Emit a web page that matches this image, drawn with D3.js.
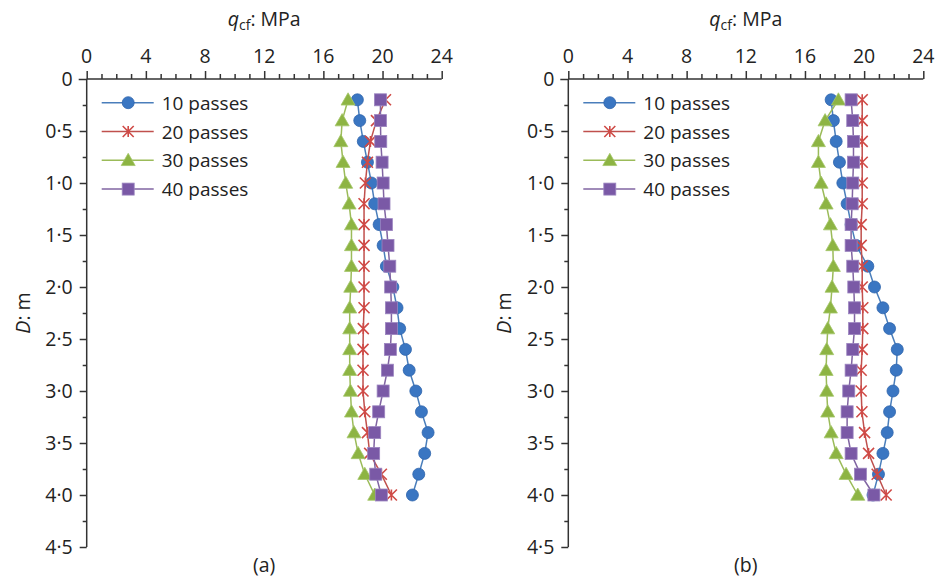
<!DOCTYPE html>
<html>
<head>
<meta charset="utf-8">
<script src="https://cdn.jsdelivr.net/npm/d3@7"></script>
<style>
  html, body { margin: 0; padding: 0; background: #fff; }
  svg { display: block; }
  text { font-family: "Open Sans", "Noto Sans", sans-serif; fill: #222; }
</style>
</head>
<body>
<svg id="chart" width="935" height="580"></svg>
<script>
// Depth of each cone reading, m
const depths = [0.2, 0.4, 0.6, 0.8, 1.0, 1.2, 1.4, 1.6, 1.8, 2.0,
                2.2, 2.4, 2.6, 2.8, 3.0, 3.2, 3.4, 3.6, 3.8, 4.0];

const seriesNames = ["10 passes", "20 passes", "30 passes", "40 passes"];

// Panel (a): cone resistance q_cf, MPa
const qA10 = [18.3, 18.46, 18.7, 18.98, 19.25, 19.47, 19.77, 20.04, 20.26, 20.7,
              20.98, 21.16, 21.55, 21.8, 22.25, 22.63, 23.08, 22.85, 22.45, 22.02];
const qA20 = [20.2, 19.59, 19.18, 18.98, 18.84, 18.75, 18.75, 18.75, 18.75, 18.75,
              18.75, 18.7, 18.68, 18.68, 18.68, 18.8, 18.98, 19.13, 19.92, 20.6];
const qA30 = [17.67, 17.27, 17.18, 17.33, 17.51, 17.74, 17.9, 17.9, 17.9, 17.85,
              17.78, 17.78, 17.78, 17.78, 17.83, 17.9, 18.07, 18.35, 18.8, 19.47];
const qA40 = [19.86, 19.86, 19.88, 19.97, 20.04, 20.1, 20.26, 20.37, 20.49, 20.55,
              20.6, 20.6, 20.53, 20.33, 20.04, 19.74, 19.47, 19.4, 19.54, 19.92];

// Panel (b): cone resistance q_cf, MPa
const qB10 = [17.77, 17.92, 18.11, 18.33, 18.56, 18.85, 19.12, 19.46, 20.25, 20.7,
              21.27, 21.72, 22.24, 22.17, 21.95, 21.72, 21.56, 21.27, 20.97, 20.6];
const qB20 = [19.87, 19.87, 19.87, 19.87, 19.87, 19.87, 19.8, 19.8, 19.87, 19.87,
              19.91, 19.91, 19.87, 19.8, 19.8, 19.85, 20.03, 20.3, 20.88, 21.49];
const qB30 = [18.26, 17.36, 16.91, 16.91, 17.09, 17.43, 17.72, 17.88, 17.92, 17.83,
              17.72, 17.54, 17.47, 17.43, 17.47, 17.54, 17.77, 18.11, 18.78, 19.57];
const qB40 = [19.12, 19.23, 19.28, 19.28, 19.23, 19.19, 19.12, 19.12, 19.23, 19.3,
              19.35, 19.35, 19.23, 19.12, 18.96, 18.85, 18.85, 19.12, 19.75, 20.66];

// Axis ticks
const xTicks = [0, 4, 8, 12, 16, 20, 24];
const yTicks = [0, 0.5, 1.0, 1.5, 2.0, 2.5, 3.0, 3.5, 4.0, 4.5];
const yTickLabels = ["0", "0·5", "1·0", "1·5", "2·0", "2·5", "3·0", "3·5", "4·0", "4·5"];

const panels = [
  { tag: "(a)", left: 86.7, series: [qA10, qA20, qA30, qA40] },
  { tag: "(b)", left: 568.3, series: [qB10, qB20, qB30, qB40] }
];

const styles = [
  { line: "#4A7EBB", marker: "circle" },
  { line: "#C0504D", marker: "star" },
  { line: "#9BBB59", marker: "triangle" },
  { line: "#8064A2", marker: "square" }
];

const plotW = 355, plotTop = 79, plotH = 468;
const axisColor = "#333";
const svg = d3.select("#chart");

function drawMarker(g, kind, x, y) {
  if (kind === "circle") {
    g.append("circle").attr("cx", x).attr("cy", y).attr("r", 6)
      .attr("fill", "#3A76C2").attr("stroke", "#2F65AC").attr("stroke-width", 0.8);
  } else if (kind === "square") {
    g.append("rect").attr("x", x - 6).attr("y", y - 6).attr("width", 12).attr("height", 12)
      .attr("fill", "#7A59A6").attr("stroke", "#9C85C0").attr("stroke-width", 0.8);
  } else if (kind === "triangle") {
    const s = 7;
    g.append("path")
      .attr("d", `M${x},${y - s} L${x + s},${y + s * 0.75} L${x - s},${y + s * 0.75} Z`)
      .attr("fill", "#8DB443").attr("stroke", "#A5C66A").attr("stroke-width", 0.8);
  } else if (kind === "star") {
    const s = 5.5;
    g.append("path")
      .attr("d", `M${x - s},${y - s} L${x + s},${y + s} M${x - s},${y + s} L${x + s},${y - s} M${x},${y - s} L${x},${y + s}`)
      .attr("stroke", "#CF4A46").attr("stroke-width", 1.6).attr("fill", "none");
  }
}

panels.forEach(p => {
  const x = d3.scaleLinear().domain([0, 24]).range([p.left, p.left + plotW]);
  const y = d3.scaleLinear().domain([0, 4.5]).range([plotTop, plotTop + plotH]);
  const g = svg.append("g");

  // top x axis: minor ticks every 1 MPa, major every 4
  const xAxis = d3.axisTop(x).tickValues(d3.range(0, 25, 1))
    .tickSize(5).tickFormat("");
  const gx = g.append("g").attr("transform", `translate(0,${plotTop})`).call(xAxis);
  gx.selectAll(".tick line").attr("y2", d => d % 4 === 0 ? -8 : -5);
  gx.selectAll("path, line").attr("stroke", axisColor).attr("stroke-width", 1.5);
  gx.select(".domain").attr("d", `M${x(0)},0H${x(24)}`);

  g.selectAll(".xlab").data(xTicks).join("text")
    .attr("x", d => x(d)).attr("y", 63)
    .attr("text-anchor", "middle").attr("font-size", 19.5)
    .text(d => d);

  // left y axis: minor ticks every 0.25 m
  const yAxis = d3.axisLeft(y).tickValues(d3.range(0, 4.51, 0.25))
    .tickSize(4).tickFormat("");
  const gy = g.append("g").attr("transform", `translate(${p.left},0)`).call(yAxis);
  gy.selectAll(".tick line").attr("x2", d => Math.abs(d * 2 - Math.round(d * 2)) < 1e-6 ? (d === 0 ? -8 : -7) : -4);
  gy.selectAll("path, line").attr("stroke", axisColor).attr("stroke-width", 1.5);
  gy.select(".domain").attr("d", `M0,${y(0)}V${y(4.5)}`);

  g.selectAll(".ylab").data(yTicks).join("text")
    .attr("x", p.left - 14).attr("y", d => y(d) + 7)
    .attr("text-anchor", "end").attr("font-size", 19.5)
    .text((d, i) => yTickLabels[i]);

  // axis titles
  const tx = g.append("text").attr("x", x(12)).attr("y", 26)
    .attr("text-anchor", "middle").attr("font-size", 19.5);
  tx.append("tspan").attr("font-style", "italic").text("q");
  tx.append("tspan").attr("font-size", 14).attr("dy", 4).text("cf");
  tx.append("tspan").attr("dy", -4).text(": MPa");

  const ty = g.append("text")
    .attr("transform", `translate(${p.left - 57},${y(2.25)}) rotate(-90)`)
    .attr("text-anchor", "middle").attr("font-size", 19.5);
  ty.append("tspan").attr("font-style", "italic").text("D");
  ty.append("tspan").text(": m");

  g.append("text").attr("x", x(12)).attr("y", 572)
    .attr("text-anchor", "middle").attr("font-size", 19.5).text(p.tag);

  // series lines and markers
  const line = d3.line().x(d => x(d[0])).y(d => y(d[1]));
  p.series.forEach((vals, si) => {
    const pts = vals.map((v, i) => [v, depths[i]]);
    const sg = g.append("g");
    sg.append("path").attr("d", line(pts)).attr("fill", "none")
      .attr("stroke", styles[si].line).attr("stroke-width", 1.5);
    pts.forEach(pt => drawMarker(sg, styles[si].marker, x(pt[0]), y(pt[1])));
  });

  // legend
  const lg = g.append("g");
  seriesNames.forEach((name, i) => {
    const ly = 102.7 + i * 28.8;
    const lx = p.left + 15;
    lg.append("line").attr("x1", lx).attr("x2", lx + 52).attr("y1", ly).attr("y2", ly)
      .attr("stroke", styles[i].line).attr("stroke-width", 1.5);
    drawMarker(lg, styles[i].marker, lx + 26.5, ly);
    lg.append("text").attr("x", lx + 60).attr("y", ly + 7)
      .attr("font-size", 19).text(name);
  });
});
</script>
</body>
</html>
